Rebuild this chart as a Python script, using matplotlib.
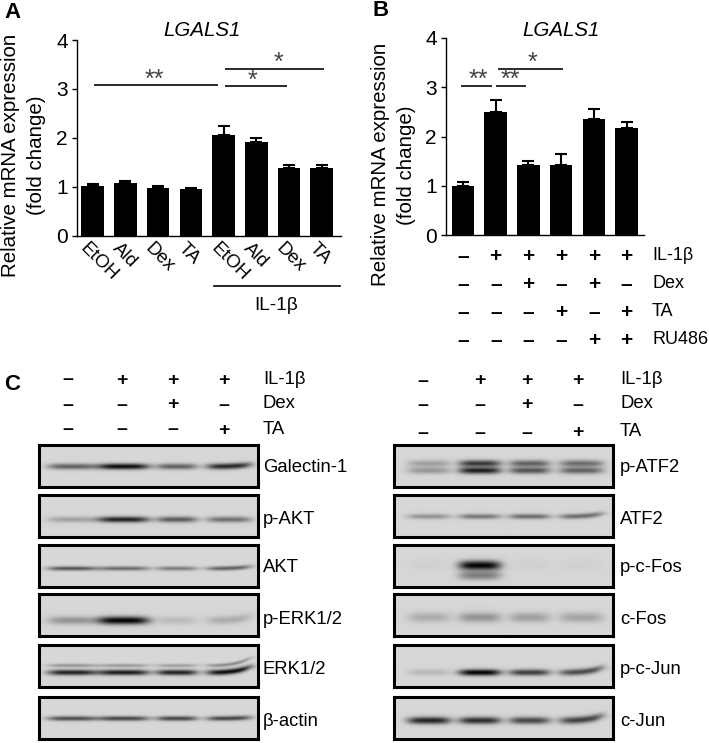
import matplotlib
matplotlib.use("Agg")
import matplotlib.pyplot as plt
import matplotlib.transforms as mtrans
import numpy as np

plt.rcParams['font.family'] = ['Liberation Sans', 'DejaVu Sans']

W, H = 709, 743

# panel A
a_labels = ["EtOH", "Ald", "Dex", "TA", "EtOH", "Ald", "Dex", "TA"]
a_values = [1.02, 1.07, 0.97, 0.96, 2.05, 1.92, 1.39, 1.39]
a_err = [0.04, 0.04, 0.04, 0.01, 0.19, 0.08, 0.05, 0.05]
# start, end, height, mark, where the mark sits
a_sig = [(0.04, 3.84, 3.07, "**", 1.90), (4.05, 5.95, 3.05, "*", 4.87), (4.05, 7.07, 3.41, "*", 5.67)]

# panel B
b_values = [0.99, 2.5, 1.42, 1.42, 2.36, 2.17]
b_err = [0.08, 0.23, 0.09, 0.22, 0.19, 0.13]
b_sig = [(-0.05, 0.9, 3.03, "**", 0.48), (1.0, 1.92, 3.03, "**", 1.46), (1.08, 3.05, 3.37, "*", 2.12)]
b_rows = ["IL-1β", "Dex", "TA", "RU486"]
b_signs = ["-+++++", "--+-+-", "---+-+", "----++"]

# panel C
c_rows = ["IL-1β", "Dex", "TA"]
c_signs = ["-+++", "--+-", "---+"]

left_names = ["Galectin-1", "p-AKT", "AKT", "p-ERK1/2", "ERK1/2", "β-actin"]
right_names = ["p-ATF2", "ATF2", "p-c-Fos", "c-Fos", "p-c-Jun", "c-Jun"]
left_lanes = [(8, 57), (58, 110), (117, 158), (167, 212)]
right_lanes = [(13, 56), (64, 106), (114, 155), (164, 208)]

# band darkness per lane, y inside the blot (px), thickness (px), rise at lane 4 end (px)
left_bands = [
    [([.55, .95, .55, .82], 21, 3.0, 2)],
    [([.25, .85, .58, .48], 24, 3.0, 0)],
    [([.60, .50, .42, .55], 23, 2.2, 2)],
    [([.32, 1.0, .13, .20], 26, 4.0, 4)],
    [([.85, .88, .85, .95], 27, 2.8, 6), ([.30, .28, .25, .35], 20, 1.8, 8)],
    [([.65, .68, .68, .68], 21, 2.4, 1)],
]
right_bands = [
    [([.26, .75, .55, .50], 18, 3.4, 0), ([.30, .88, .62, .55], 25, 3.4, 0)],
    [([.32, .45, .50, .50], 21, 2.6, 3)],
    [([.03, 1.0, .03, .03], 20, 4.8, 0), ([.0, .42, .0, .0], 30, 4.5, 0)],
    [([.20, .32, .26, .24], 23, 5.0, 0)],
    [([.14, 1.0, .72, .66], 27, 3.2, 5)],
    [([.85, .80, .68, .70], 23, 3.6, 5)],
]

row_tops = [445, 495, 545, 594, 645, 697]
row_height = 45
label_ys = [467, 519, 567, 619, 670, 722]


def px_axes(fig, x0, y0, x1, y1):
    return fig.add_axes([x0 / W, 1 - y1 / H, (x1 - x0) / W, (y1 - y0) / H])


def bar_panel(ax, values, err):
    xs = np.arange(len(values))
    ax.bar(xs, values, width=0.69, color="black",
           yerr=[np.zeros(len(err)), err], ecolor="black",
           error_kw=dict(elinewidth=1.5, capsize=4, capthick=1.5))
    ax.set_ylim(0, 4)
    ax.set_yticks([0, 1, 2, 3, 4])
    ax.tick_params(axis="y", labelsize=15, length=3.5, width=1, pad=3)
    ax.set_xticks([])
    ax.spines[["top", "right"]].set_visible(False)
    ax.spines[["left", "bottom"]].set_linewidth(1)
    ax.patch.set_alpha(0)


def sig_lines(ax, sig):
    for x0, x1, y, mark, star_x in sig:
        ax.plot([x0, x1], [y, y], color="#1a1a1a", lw=1.3, solid_capstyle="butt")
        ax.annotate(mark, xy=(star_x, y), xytext=(0, 4), textcoords="offset points",
                    ha="center", va="center", fontsize=18, color="#444444")


def draw_blot(fig, x0, y0, bands, lanes):
    x1, y1 = x0 + 219, y0 + row_height - 3
    ax = px_axes(fig, x0, y0, x1, y1)
    yy, xx = np.mgrid[0:y1 - y0, 0:x1 - x0]
    img = np.full(xx.shape, 0.84)
    for dark, yc, thick, rise in bands:
        ink = np.zeros(xx.shape)
        for i, (a, b) in enumerate(lanes):
            t = np.clip((xx - a) / (b - a), 0, 1)
            shift = rise * t ** 3 if i == 3 else 0
            mid, half = (a + b) / 2, (b - a) / 2
            along = np.exp(-np.abs((xx - mid) / half) ** 4)
            across = np.exp(-((yy - yc + shift) / thick) ** 2)
            ink += dark[i] * along * across
        img = img * (1 - np.clip(ink, 0, 1) * 0.98)
    ax.imshow(img, cmap="gray", vmin=0, vmax=1, aspect="auto", interpolation="bilinear")
    ax.set_xticks([])
    ax.set_yticks([])
    for s in ax.spines.values():
        s.set_linewidth(2.2)


fig = plt.figure(figsize=(W / 100, H / 100), dpi=100)

# overlay in pixel coordinates, used for the text
over = fig.add_axes([0, 0, 1, 1])
over.set_xlim(0, W)
over.set_ylim(H, 0)
over.axis("off")

ax_a = px_axes(fig, 77, 40, 341, 235.5)
bar_panel(ax_a, a_values, a_err)
ax_a.set_xlim(-0.48, 7.59)
sig_lines(ax_a, a_sig)
for i, lab in enumerate(a_labels):
    ax_a.annotate(lab, xy=(i, 0), xytext=(-3, -3), textcoords="offset points", rotation=-45,
                  rotation_mode="anchor", ha="left", va="top", fontsize=13.5, annotation_clip=False)

ax_b = px_axes(fig, 446, 37.7, 644, 235.3)
bar_panel(ax_b, b_values, b_err)
ax_b.set_xlim(-0.52, 5.53)
sig_lines(ax_b, b_sig)

# IL-1b bar under the last four lanes of A
trans_a = mtrans.blended_transform_factory(ax_a.transData, over.transData)
over.plot([3.72, 7.55], [286.3, 286.3], color="black", lw=1.2, transform=trans_a, clip_on=False)
over.text(5.6, 306, "IL-1β", transform=trans_a, ha="center", va="center", fontsize=13.7)

trans_b = mtrans.blended_transform_factory(ax_b.transData, over.transData)
b_ys = [256, 284, 312, 341]
for row, signs, y in zip(b_rows, b_signs, b_ys):
    for i, s in enumerate(signs):
        over.text(i, y, "+" if s == "+" else "–", transform=trans_b, ha="center", va="center",
                  fontsize=15, fontweight="bold")
    over.text(652, y - 1, row, ha="left", va="center", fontsize=13)

over.text(12.5, 12, "A", fontsize=16, fontweight="bold", ha="center", va="center")
over.text(380.5, 11, "B", fontsize=16, fontweight="bold", ha="center", va="center")
over.text(12.5, 384, "C", fontsize=16, fontweight="bold", ha="center", va="center")
over.text(201.7, 30.7, "LGALS1", fontsize=14.8, style="italic", ha="center", va="center")
over.text(560.7, 30.7, "LGALS1", fontsize=14.8, style="italic", ha="center", va="center")

over.text(11, 155, "Relative mRNA expression", rotation=90, fontsize=14.8, ha="center", va="center")
over.text(36, 155, "(fold change)", rotation=90, fontsize=14.8, ha="center", va="center")
over.text(380, 164, "Relative mRNA expression", rotation=90, fontsize=14.8, ha="center", va="center")
over.text(406, 165, "(fold change)", rotation=90, fontsize=14.8, ha="center", va="center")

# sign rows over the blots
for xs, tx, ys in [([68, 122, 173, 224], 263, [379, 404, 429]),
                   ([423, 480, 527, 578], 620, [380, 404, 432])]:
    for row, signs, y in zip(c_rows, c_signs, ys):
        for x, s in zip(xs, signs):
            over.text(x, y + 1, "+" if s == "+" else "–", ha="center", va="center", fontsize=14,
                      fontweight="bold")
        over.text(tx, y, row, ha="left", va="center", fontsize=13.3)

for i in range(6):
    draw_blot(fig, 38.5, row_tops[i], left_bands[i], left_lanes)
    draw_blot(fig, 393.5, row_tops[i], right_bands[i], right_lanes)
    over.text(263, label_ys[i], left_names[i], ha="left", va="center", fontsize=13.3)
    over.text(620, label_ys[i], right_names[i], ha="left", va="center", fontsize=13.3)

fig.savefig("out.png", dpi=100)
